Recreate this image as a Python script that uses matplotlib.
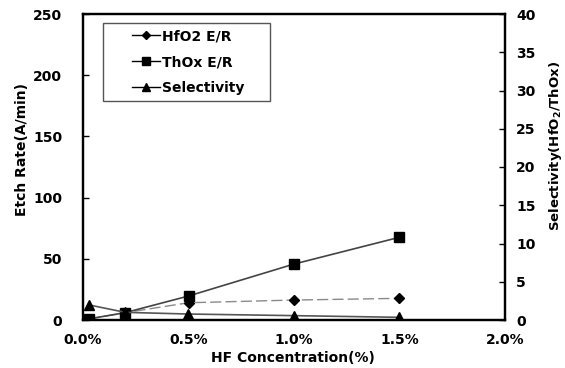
import matplotlib
matplotlib.use("Agg")
import matplotlib.pyplot as plt
from matplotlib.patches import Rectangle

plt.rcParams['font.family'] = ['DejaVu Sans']
plt.rcParams['font.weight'] = 'bold'
plt.rcParams['axes.labelweight'] = 'bold'
plt.rcParams['mathtext.default'] = 'bf'

hf_conc = [0.03, 0.2, 0.5, 1.0, 1.5]
hfo2_er = [0.8, 6.0, 14.1, 16.3, 17.7]
thox_er = [1.0, 6.0, 19.6, 45.7, 67.6]
selectivity = [1.96, 1.0, 0.78, 0.57, 0.35]

x_ticks = [0.0, 0.5, 1.0, 1.5, 2.0]
x_labels = ['0.0%', '0.5%', '1.0%', '1.5%', '2.0%']
left_ticks = [0, 50, 100, 150, 200, 250]
right_ticks = [0, 5, 10, 15, 20, 25, 30, 35, 40]

W, H = 565, 368
fig = plt.figure(figsize=(5.65, 3.68), dpi=100)
ax = fig.add_axes([83/W, 1-320/H, (505-83)/W, (320-14)/H])
ax2 = ax.twinx()

l1, = ax.plot(hf_conc, hfo2_er, color='#8a8a8a', lw=1.0, ls=(0, (8, 3)),
              marker='D', ms=5, mfc='black', mec='black', label='HfO2 E/R')
l2, = ax.plot(hf_conc, thox_er, color='#444444', lw=1.2,
              marker='s', ms=7, mfc='black', mec='black', label='ThOx E/R')
l3, = ax2.plot(hf_conc, selectivity, color='#555555', lw=1.2,
               marker='^', ms=7, mfc='black', mec='black', label='Selectivity')

ax.set_xlim(0, 2.0)
ax.set_ylim(0, 250)
ax2.set_ylim(0, 40)
ax.set_xticks(x_ticks)
ax.set_xticklabels(x_labels)
ax.set_yticks(left_ticks)
ax2.set_yticks(right_ticks)

ax.tick_params(axis='x', length=0, pad=9, labelsize=10)
ax.tick_params(axis='y', direction='in', length=4, width=1, pad=15, labelsize=10)
ax2.tick_params(axis='y', direction='in', length=4, width=1, pad=8, labelsize=10)

for a in (ax, ax2):
    for s in a.spines.values():
        s.set_linewidth(1.6)

fig.text(293/W, 1-358/H, 'HF Concentration(%)', fontsize=10, fontweight='bold',
         ha='center', va='center')
fig.text(22/W, 1-150/H, 'Etch Rate(A/min)', fontsize=10, fontweight='bold',
         ha='center', va='center', rotation=90)
fig.text(555/W, 1-146/H, r'Selectivity(HfO$_2$/ThOx)', fontsize=9.5, fontweight='bold',
         ha='center', va='center', rotation=90)

# legend box frame
fig.patches.append(Rectangle((103/W, 1-101/H), (270-103)/W, (101-23)/H,
                             transform=fig.transFigure, fill=True, facecolor='white',
                             edgecolor='#555555', lw=1.0, zorder=5))

leg = fig.legend(handles=[l1, l2, l3], labels=['HfO2 E/R', 'ThOx E/R', 'Selectivity'],
                 loc='upper left', bbox_to_anchor=(128/W, 1-25/H), borderaxespad=0,
                 frameon=False, fontsize=10, handlelength=2.0, handletextpad=0.15,
                 borderpad=0.3, labelspacing=0.87, markerscale=0.8)
leg.set_zorder(6)
for h in leg.get_lines():
    h.set_color('black')
    h.set_linestyle('-')
    h.set_linewidth(1.0)

fig.savefig('out.png', dpi=100)
